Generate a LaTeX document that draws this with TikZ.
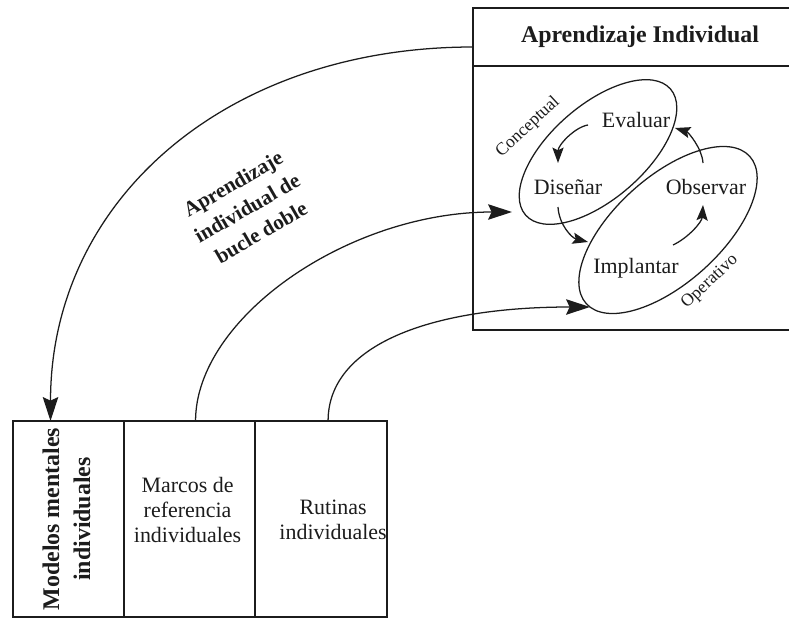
\documentclass[tikz,border=0pt]{standalone}
\usepackage{fontspec}
\setmainfont{Liberation Serif}
\usetikzlibrary{arrows.meta,positioning,shapes.geometric}
\definecolor{tinta}{HTML}{1C1C1C}
\tikzset{
  caja/.style={draw=tinta,line width=1.2pt,inner sep=0pt,outer sep=0pt,minimum height=4.9cm},
  elipse/.style={ellipse,draw=tinta,line width=0.9pt,inner sep=0pt},
  flecha/.style={-{Stealth[length=17pt,width=11pt,inset=2.5pt]},tinta,line width=0.9pt},
  ciclo/.style={-{Stealth[length=11pt,width=8pt,inset=2pt]},tinta,line width=0.9pt},
  texto/.style={tinta,inner sep=1pt,align=center,font=\fontsize{15.6}{18}\selectfont},
  negrita/.style={tinta,inner sep=1pt,align=center,font=\bfseries\fontsize{17}{22}\selectfont},
  rotulo/.style={tinta,inner sep=1pt,align=center,font=\bfseries\fontsize{15}{20}\selectfont},
  giro/.style={tinta,inner sep=1pt,font=\fontsize{12.5}{14}\selectfont,rotate=43},
}

\begin{document}
\begin{tikzpicture}[x=0.025cm,y=-0.025cm]
  \useasboundingbox (0,0) rectangle (789,619);
  % ===== arriba: Aprendizaje Individual =====
  \coordinate (indiv) at (473,8);
  \draw[tinta,line width=1.2pt] (789,8) -| (473,330) -- (789,330);
  \draw[tinta,line width=1.2pt] (473,66) -- (789,66);
  \node[negrita] (titulo) at (640,37) {Aprendizaje Individual};
  \node[elipse,minimum width=4.8cm,minimum height=2.35cm,rotate=41] (conceptual) at (598,152) {};
  \node[elipse,minimum width=5.5cm,minimum height=2.65cm,rotate=42] (operativo) at (668,230) {};
  \node[texto] (evaluar) at (636,120) {Evaluar};
  \node[texto] (disenar) at (568,187) {Diseñar};
  \node[texto] (observar) at (706,187) {Observar};
  \node[texto] (implantar) at (636,268) {Implantar};
  \node[giro] (conctxt) at (528,127) {Conceptual};
  \node[giro] (opertxt) at (710,282) {Operativo};
  % ciclo
  \draw[ciclo] ([shift={(-48,5)}]evaluar.center) .. controls +(-13,2) and +(0,-18) .. ([shift={(-10,-24)}]disenar.center);
  \draw[ciclo] ([shift={(-10,20)}]disenar.center) .. controls +(1,18) and +(-16,-4) .. ([shift={(-48,-26)}]implantar.center);
  \draw[ciclo] ([shift={(37,-23)}]implantar.center) .. controls +(15,-7) and +(-1,17) .. ([shift={(-3,18)}]observar.center);
  \draw[ciclo] ([shift={(-3,-24)}]observar.center) .. controls +(-1,-15) and +(13,4) .. ([shift={(39,8)}]evaluar.center);
  % ===== abajo: modelos mentales =====
  \node[caja,minimum width=2.775cm,anchor=north west] (modelos) at (13,421) {};
  \node[caja,minimum width=3.275cm,right=0pt of modelos] (marcos) {};
  \node[caja,minimum width=3.3cm,right=0pt of marcos] (rutinas) {};
  \node[negrita,rotate=90] (modelostxt) at ([shift={(-2,0)}]modelos.center) {Modelos mentales\\individuales};
  \node[texto] (marcostxt) at ([shift={(-2,-9)}]marcos.center) {Marcos de\\referencia\\individuales};
  \node[texto] (rutinastxt) at ([shift={(12,1)}]rutinas.center) {Rutinas\\individuales};
  % ===== flechas grandes =====
  \coordinate (entD) at (512,212);
  \coordinate (entI) at (590,307);
  \draw[flecha] ([shift={(0,39)}]indiv) .. controls +(-248,0) and +(0,-220) .. ([shift={(-18,0)}]modelos.north);
  \draw[flecha] ([shift={(6,0)}]marcos.north) .. controls +(0,-103) and +(-164,0) .. (entD);
  \draw[flecha] ([shift={(7,0)}]rutinas.north) .. controls +(0,-76) and +(-160,0) .. (entI);
  \node[rotulo,rotate=30] (bucle) at (247,208) {Aprendizaje\\individual de\\bucle doble};
\end{tikzpicture}
\end{document}
